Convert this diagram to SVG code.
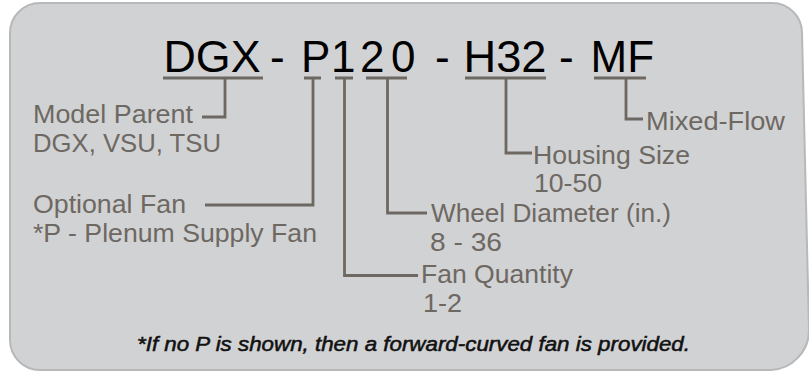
<svg xmlns="http://www.w3.org/2000/svg" width="809" height="371" viewBox="0 0 809 371">
<style>
.title{font-family:"Liberation Sans",Arial,sans-serif;font-size:44px;fill:#000}
.lbl{font-family:"Liberation Sans",Arial,sans-serif;font-size:25px;fill:#6e6862}
.note{font-family:"Liberation Sans",Arial,sans-serif;font-size:21px;font-style:italic;fill:#111;stroke:#111;stroke-width:0.55}
.ln{fill:none;stroke:#6e6862;stroke-width:2.8}
</style>
<rect x="0" y="0" width="809" height="371" fill="#ffffff"/>
<path id="panel" d="M40 3 H772 A30 30 0 0 1 802 33 L809 330 A40 40 0 0 1 771 370 H40 A30 30 0 0 1 10 340 V33 A30 30 0 0 1 40 3 Z" fill="#d1d2d4" stroke="#b7b8ba" stroke-width="2"/>
<g id="code">
<text class="title" x="163.5" y="72" textLength="97" lengthAdjust="spacingAndGlyphs">DGX</text>
<text class="title" x="270" y="72">-</text>
<text class="title" x="301" y="72">P</text>
<text class="title" x="331" y="72">1</text>
<text class="title" x="360" y="72">2</text>
<text class="title" x="391" y="72">0</text>
<text class="title" x="435" y="72">-</text>
<text class="title" x="463.5" y="72" textLength="83" lengthAdjust="spacingAndGlyphs">H32</text>
<text class="title" x="559" y="72">-</text>
<text class="title" x="590.5" y="72">MF</text>
</g>
<g id="connectors">
<path class="ln" d="M163 78 H263 M225 78 V117 H202"/>
<path class="ln" d="M304 78 H321 M313 78 V205 H205"/>
<path class="ln" d="M335 78 H353 M344.5 78 V275.5 H418"/>
<path class="ln" d="M366 78 H407 M387.5 78 V213 H427"/>
<path class="ln" d="M465 78 H546 M506 78 V153 H532"/>
<path class="ln" d="M594 78 H646 M626 78 V119 H643"/>
</g>
<g id="model-parent">
<text class="lbl" x="33" y="123" textLength="160" lengthAdjust="spacingAndGlyphs">Model Parent</text>
<text class="lbl" x="33" y="152" textLength="188" lengthAdjust="spacingAndGlyphs">DGX, VSU, TSU</text>
</g>
<g id="optional-fan">
<text class="lbl" x="33" y="213" textLength="153" lengthAdjust="spacingAndGlyphs">Optional Fan</text>
<text class="lbl" x="33" y="242" textLength="284" lengthAdjust="spacingAndGlyphs">*P - Plenum Supply Fan</text>
</g>
<g id="fan-quantity">
<text class="lbl" x="421" y="283" textLength="152" lengthAdjust="spacingAndGlyphs">Fan Quantity</text>
<text class="lbl" x="423" y="312" textLength="39" lengthAdjust="spacingAndGlyphs">1-2</text>
</g>
<g id="wheel-diameter">
<text class="lbl" x="431" y="222" textLength="240" lengthAdjust="spacingAndGlyphs">Wheel Diameter (in.)</text>
<text class="lbl" x="430" y="251" textLength="72" lengthAdjust="spacingAndGlyphs">8 - 36</text>
</g>
<g id="housing-size">
<text class="lbl" x="533" y="164" textLength="157" lengthAdjust="spacingAndGlyphs">Housing Size</text>
<text class="lbl" x="534" y="192" textLength="68" lengthAdjust="spacingAndGlyphs">10-50</text>
</g>
<g id="mixed-flow">
<text class="lbl" x="646" y="130" textLength="139" lengthAdjust="spacingAndGlyphs">Mixed-Flow</text>
</g>
<g id="footnote">
<text class="note" x="137" y="351" textLength="553" lengthAdjust="spacingAndGlyphs">*If no P is shown, then a forward-curved fan is provided.</text>
</g>
</svg>
